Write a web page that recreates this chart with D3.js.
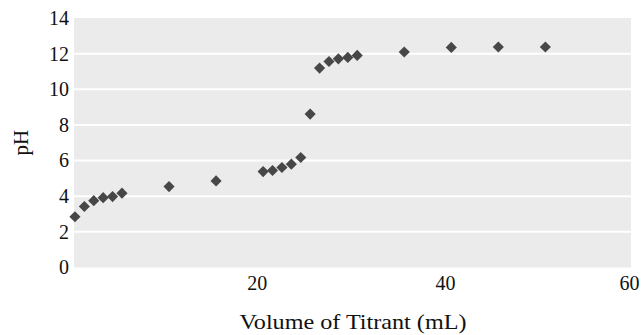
<!DOCTYPE html>
<html>
<head>
<meta charset="utf-8">
<script src="https://cdn.jsdelivr.net/npm/d3@7"></script>
<style>
  body { margin: 0; background: #fff; }
  svg text { font-family: "Liberation Serif", "DejaVu Serif", serif; fill: #000; }
</style>
</head>
<body>
<svg width="642" height="335"></svg>
<script>
// titrant volume (mL) and measured pH
var volume = [1, 2, 3, 4, 5, 6, 11, 16, 21, 22, 23, 24, 25, 26, 27, 28, 29, 30, 31, 36, 41, 46, 51];
var pH = [2.85, 3.42, 3.75, 3.92, 3.98, 4.17, 4.54, 4.86, 5.38, 5.44, 5.61, 5.80, 6.17, 8.61,
          11.19, 11.56, 11.71, 11.79, 11.90, 12.09, 12.35, 12.37, 12.37];
var xTicks = [20, 40, 60];
var yTicks = [0, 2, 4, 6, 8, 10, 12, 14];

var points = volume.map(function(v, i) { return { x: v, y: pH[i] }; });

var svg = d3.select("svg"),
    plotLeft = 74, plotRight = 631, plotTop = 18, plotBottom = 267.5;

var x = d3.scaleLinear().domain([0.9, 60.1]).range([plotLeft, plotRight]);
var y = d3.scaleLinear().domain([0, 14]).range([plotBottom, plotTop]);

// grey panel
svg.append("rect")
    .attr("x", plotLeft).attr("y", plotTop)
    .attr("width", plotRight - plotLeft).attr("height", plotBottom - plotTop)
    .style("fill", "#ebebeb");

// horizontal grid lines
svg.selectAll(".grid")
    .data(yTicks.filter(function(d) { return d > 0 && d < 14; }))
    .enter().append("line")
    .attr("class", "grid")
    .attr("x1", plotLeft).attr("x2", plotRight)
    .attr("y1", function(d) { return y(d); })
    .attr("y2", function(d) { return y(d); })
    .style("stroke", "#fff")
    .style("stroke-width", "2px");

// axes, labels only
var yAxis = svg.append("g")
    .attr("transform", "translate(" + plotLeft + ",0)")
    .call(d3.axisLeft(y).tickValues(yTicks).tickSize(0).tickPadding(5));
var xAxis = svg.append("g")
    .attr("transform", "translate(0," + plotBottom + ")")
    .call(d3.axisBottom(x).tickValues(xTicks).tickSize(0).tickPadding(8));

[yAxis, xAxis].forEach(function(g) {
    g.select(".domain").remove();
    g.selectAll("text")
        .style("font-family", "'Liberation Serif', serif")
        .style("font-size", "20px")
        .style("fill", "#111");
});
xAxis.selectAll("text").attr("dx", function(d) { return d < 60 ? 3 : -1; });

// diamonds
svg.selectAll(".pt")
    .data(points)
    .enter().append("path")
    .attr("class", "pt")
    .attr("d", d3.symbol().type(d3.symbolSquare).size(62))
    .attr("transform", function(d) {
        return "translate(" + x(d.x) + "," + y(d.y) + ") rotate(45)";
    })
    .style("fill", "#474747");

// axis titles
svg.append("text")
    .attr("x", 353)
    .attr("y", 329)
    .attr("text-anchor", "middle")
    .attr("textLength", 227)
    .attr("lengthAdjust", "spacingAndGlyphs")
    .style("font-size", "22px")
    .style("fill", "#111")
    .text("Volume of Titrant (mL)");

svg.append("text")
    .attr("transform", "translate(28," + (plotTop + plotBottom) / 2 + ") rotate(-90)")
    .attr("text-anchor", "middle")
    .style("font-size", "21px")
    .style("fill", "#111")
    .text("pH");
</script>
</body>
</html>
